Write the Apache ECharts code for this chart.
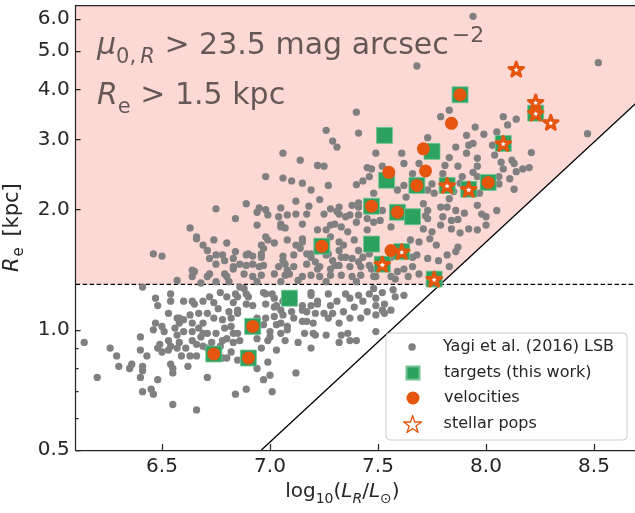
<!DOCTYPE html>
<html>
<head>
<meta charset="utf-8">
<script src="https://cdn.jsdelivr.net/npm/echarts@6/dist/echarts.min.js"></script>
<style>
  html, body { margin: 0; padding: 0; background: #ffffff; }
  #chart { width: 635px; height: 513px; }
</style>
</head>
<body>
<div id="chart"></div>
<script>
// Each point: [log10(L_R / L_sun), effective radius R_e in kpc]
const lsbGalaxies = [
  [6.75,2.01],[6.84,1.90],[6.63,1.80],[6.66,1.71],[6.66,1.69],[6.74,1.68],[6.80,1.65],[6.69,1.63],[6.71,1.58],[6.46,1.55],
  [6.50,1.53],[6.84,1.57],[6.78,1.54],[6.72,1.51],[6.79,1.49],[6.83,1.51],[6.75,1.46],[6.86,1.46],[6.64,1.41],[6.65,1.40],
  [6.83,1.42],[6.79,1.38],[6.71,1.36],[6.57,1.33],[6.68,1.31],[6.75,1.32],[6.81,1.32],
  [7.06,2.77],[7.14,2.66],[7.22,2.58],[6.98,2.42],[7.06,2.40],[7.10,2.36],[7.15,2.33],[7.19,2.24],[7.23,2.12],[6.89,2.07],
  [6.95,2.02],[6.98,2.00],[6.94,1.97],[6.99,1.94],[7.05,2.02],[7.08,1.94],[7.12,2.10],[7.12,1.95],[7.18,2.04],[7.17,1.95],
  [6.94,1.83],[7.05,1.81],[7.07,1.80],[7.15,1.84],[7.22,1.78],[6.98,1.71],[7.02,1.65],[7.08,1.68],[7.12,1.63],[7.15,1.69],
  [6.90,1.55],[6.96,1.55],[7.06,1.53],[7.17,1.55],[6.75,1.54],
  [7.25,2.57],[7.45,2.55],[7.46,2.42],[7.27,2.30],[7.40,2.31],[7.43,2.36],[7.04,1.92],[7.25,1.95],[7.28,2.01],[7.31,1.98],
  [7.32,1.95],[7.35,1.92],[7.37,1.94],[7.38,2.05],[7.41,2.03],[7.41,1.94],[7.40,1.86],[7.45,1.90],[7.48,1.86],[7.05,1.84],
  [7.28,1.83],[7.30,1.84],[7.33,1.81],[7.36,1.76],[7.26,1.78],[7.45,1.78],[6.99,1.68],[7.15,1.66],[7.28,1.71],[7.32,1.66],
  [7.34,1.63],[7.32,1.58],[7.39,1.68],[7.41,1.58],[6.96,1.63],[6.97,1.60],[6.89,1.54],[6.92,1.53],[6.96,1.52],[7.14,1.60],
  [7.11,1.54],[7.19,1.52],[7.26,1.54],[7.29,1.49],[7.35,1.52],[7.38,1.51],[7.43,1.52],[7.46,1.55],[6.83,1.44],[6.89,1.45],
  [6.95,1.44],[6.97,1.45],[7.04,1.44],[7.07,1.46],[7.11,1.44],[7.17,1.46],[7.21,1.48],[7.23,1.44],[7.28,1.42],[7.32,1.45],
  [7.37,1.44],[7.42,1.44],[7.46,1.45],[6.88,1.38],[6.92,1.36],[6.96,1.37],[7.02,1.38],[7.07,1.37],[7.09,1.38],[7.15,1.36],
  [7.19,1.37],[7.23,1.36],[7.28,1.37],[7.33,1.37],[7.38,1.36],[7.42,1.37],[7.48,1.36],[6.94,1.32],[7.05,1.32],[7.13,1.33],
  [7.26,1.32],[7.40,1.32],
  [6.92,1.46],[7.06,1.49],[7.08,1.41],[7.19,1.55],[7.22,1.42],[6.72,1.38],[6.80,1.36],[6.64,1.36],
  [7.79,3.42],[7.83,3.55],[8.08,3.42],[8.14,3.37],[7.95,3.22],[8.10,3.26],[7.91,3.07],[7.99,3.09],[7.73,3.03],[7.92,2.90],
  [7.94,2.93],[7.86,2.87],[8.03,2.90],[7.49,2.77],[7.61,2.77],[7.83,2.70],[7.96,2.69],[7.91,2.77],[8.12,2.66],[8.13,2.61],
  [8.14,2.49],[8.07,2.63],[8.08,2.53],[8.11,2.39],[7.87,2.57],[7.81,2.58],[7.69,2.61],[7.52,2.57],[7.62,2.61],[7.47,2.53],
  [7.66,2.46],[7.89,2.42],[7.94,2.48],[7.96,2.42],[8.06,2.42],[7.88,2.33],[8.06,2.32],[8.13,2.25],[7.75,2.32],[7.62,2.30],
  [7.59,2.24],[7.73,2.24],[7.76,2.20],[7.85,2.22],[7.97,2.20],[7.83,2.13],[7.79,2.03],[7.82,2.03],[7.86,1.99],[7.90,1.96],
  [7.96,2.05],[8.05,1.99],[8.00,1.92],[7.80,1.92],[7.84,1.88],[7.87,1.89],[7.71,2.07],[7.73,1.99],[7.72,1.93],[7.73,1.90],
  [7.79,1.83],[7.84,1.79],[7.75,1.76],[7.88,1.75],[7.92,1.79],[7.96,1.78],[8.00,1.83],[7.71,1.79],[7.56,1.81],[7.52,1.99],
  [7.51,1.88],[7.63,2.15],[7.48,2.20],
  [7.94,6.10],[8.52,4.67],[7.68,4.58],[7.40,3.51],[7.26,3.16],[7.41,3.11],[7.29,2.97],[7.31,2.87],[8.05,3.13],[8.47,3.10],
  [8.21,2.78],[8.20,2.55],[8.17,2.53],[8.04,2.74],[7.96,2.57],[7.80,2.46],[7.32,2.03],[7.41,2.08],[7.98,1.95],[7.87,1.61],
  [6.41,1.28],[6.47,1.20],[6.48,1.15],[6.54,1.23],[6.54,1.18],[6.60,1.18],[6.64,1.18],[6.65,1.16],[6.69,1.18],[6.72,1.21],
  [6.74,1.17],[6.77,1.24],[6.80,1.21],[6.84,1.23],[6.83,1.17],[6.76,1.13],[6.71,1.10],[6.81,1.11],[6.85,1.10],[6.53,1.10],
  [6.57,1.07],[6.60,1.06],[6.63,1.09],[6.67,1.10],[6.74,1.07],[6.78,1.06],[6.64,1.04],[6.69,1.04],[6.47,1.04],[6.50,1.02],
  [6.46,1.00],[6.51,0.99],[6.56,1.01],[6.58,1.04],[6.60,0.99],[6.57,0.97],[6.64,0.99],[6.68,0.96],[6.71,0.98],[6.75,0.98],
  [6.79,1.01],[6.83,0.98],[6.85,0.98],[6.64,0.94],[6.66,0.92],[6.69,0.91],[6.73,0.93],[6.78,0.94],[6.83,0.93],[6.53,0.94],
  [6.58,0.93],[6.54,0.91],[6.57,0.90],[6.53,0.89],[6.48,0.90],[6.50,0.88],[6.40,0.96],[6.14,0.93],[6.26,0.90],[6.29,0.86],
  [6.40,0.89],[6.43,0.86],[6.36,0.82],[6.35,0.80],[6.30,0.81],[6.41,0.81],[6.41,0.79],[6.40,0.76],[6.54,0.82],[6.55,0.80],
  [6.48,0.75],[6.20,0.76],[6.71,0.76],[6.41,0.70],[6.45,0.71],[6.46,0.69],[6.55,0.65],[6.66,0.63],[6.84,0.69],[6.66,0.86],
  [6.63,0.86],[6.82,0.88],[6.80,0.85],[6.85,0.84],
  [6.55,0.78],[6.58,1.07],[6.67,1.01],[6.69,0.98],[6.80,0.95],[6.82,1.07],[6.89,0.71],[6.94,0.80],[6.97,0.75],[7.01,0.70],
  [7.03,0.89],[7.07,0.94],[7.12,0.78],[7.19,0.90],[7.20,0.98],[6.85,1.21],[6.86,1.28],[6.89,1.23],[6.92,1.15],[6.98,1.23],
  [7.02,1.20],[7.05,1.12],[6.94,1.07],[6.98,1.07],[7.03,1.03],[7.08,1.00],[7.00,0.96],[7.11,1.07],[7.15,1.12],[7.17,1.05],
  [7.22,1.16],[7.19,1.24],[7.02,1.14],[6.82,1.02],[6.78,0.85],[6.77,0.91],[6.71,0.90],[6.61,0.90],[6.59,0.86],[6.62,0.81],
  [6.49,0.92],
  [6.88,1.27],[6.90,1.21],[6.89,1.16],[6.85,1.12],[6.97,1.24],[7.01,1.23],[6.98,1.16],[7.03,1.15],[7.06,1.18],[7.10,1.11],
  [7.15,1.15],[7.19,1.22],[7.19,1.15],[7.22,1.18],[7.27,1.23],[7.28,1.15],[7.31,1.18],[7.35,1.23],[7.37,1.20],[7.41,1.22],
  [7.43,1.18],[7.46,1.23],[7.49,1.15],[7.49,1.09],[7.45,1.11],[7.42,1.07],[7.39,1.14],[7.34,1.11],[7.29,1.10],[7.25,1.10],
  [7.21,1.10],[7.17,1.11],[7.15,1.05],[7.20,1.04],[7.06,1.09],[7.02,1.08],[6.97,1.03],[7.05,1.04],[7.08,1.02],[7.00,0.99],
  [7.05,0.98],[7.16,0.98],[7.21,0.97],[7.26,0.97],[7.33,0.97],[7.37,0.94],[7.40,0.94],[7.49,0.99],[7.32,0.93],[7.13,0.93],
  [6.99,0.94],[6.94,0.95],[6.86,0.94],[6.96,0.90],[6.99,0.83],[7.00,0.77],
  [7.65,1.68],[7.69,1.66],[7.74,1.69],[7.77,1.63],[7.82,1.54],[7.78,1.49],[7.83,1.44],[7.86,1.57],[7.68,1.54],[7.73,1.51],
  [7.62,1.42],[7.66,1.44],[7.69,1.38],[7.64,1.36],[7.59,1.40],[7.56,1.36],[7.49,1.36],[7.48,1.27],[7.52,1.24],[7.57,1.26],
  [7.58,1.21],[7.49,1.20],[7.53,1.16],[7.52,1.12],[7.62,1.22],[7.53,1.10],
  [7.32,1.04],[7.56,1.12],[7.36,0.98],[7.27,1.07],[7.37,1.07],[7.27,1.55],[7.33,1.52],[7.41,1.48],[7.30,1.45],[7.47,1.42],
  [7.56,1.52],[7.66,1.52],[7.58,1.34]
];

const targets = [
  [7.88,3.88],[7.53,3.07],[7.75,2.80],[8.08,2.93],[7.54,2.37],[7.68,2.30],[7.82,2.30],[7.92,2.25],[8.01,2.34],[7.47,2.04],
  [7.59,1.97],[7.66,1.92],[8.23,3.49],[7.47,1.64],[7.61,1.57],[7.52,1.46],[7.76,1.34],[7.24,1.62],[7.09,1.20],[6.92,1.02],
  [6.74,0.87],[6.90,0.85]
];

const velocities = [
  [7.88,3.88],[7.84,3.29],[7.71,2.84],[7.55,2.48],[7.72,2.50],[7.68,2.30],[8.01,2.34],[7.47,2.04],[7.59,1.97],[7.56,1.58],
  [7.24,1.62],[6.92,1.02],[6.74,0.87],[6.90,0.85]
];

const stellarPops = [
  [8.14,4.50],[8.23,3.72],[8.23,3.49],[8.30,3.31],[8.08,2.93],[7.82,2.30],[7.92,2.25],[7.61,1.57],[7.52,1.46],[7.76,1.34]
];

// axis ranges and ticks
const logLRange = [6.1, 8.7];
const reRange = [0.5, 6.5];
const logLTicks = [6.5, 7.0, 7.5, 8.0, 8.5];
const reTicks = [0.5, 1, 2, 3, 4, 5, 6];
const reMinorTicks = [0.6, 0.7, 0.8, 0.9];

// selection cuts: R_e threshold and surface-brightness limit line
const reCut = 1.3;
const sbLimit = [[6.96, 0.5], [8.7, 3.72]];
const selectionRegion = [[6.1, 1.3], [7.788, 1.3], [8.7, 3.72], [8.7, 6.5], [6.1, 6.5]];

const lg = v => Math.log10(v);
const toPlot = pts => pts.map(p => [p[0], lg(p[1])]);

const FONT = 'DejaVu Sans';
const INK = '#262626';
const GREEN = '#2ca25f';
const ORANGE = '#e6550d';
const STAR = 'path://M0,-10L2.245,-3.09L9.51,-3.09L3.633,1.18L5.878,8.09L0,3.82L-5.878,8.09L-3.633,1.18L-9.51,-3.09L-2.245,-3.09Z';
const SQUARE = 'path://M0,0L10,0L10,10L0,10Z';

const yMin = lg(reRange[0]) - 1e-9;
const yMax = lg(reRange[1]);

const chart = echarts.init(document.getElementById('chart'), null, { renderer: 'canvas' });

const axisLineStyle = { color: INK, width: 1.25 };
const textColor = 'rgba(0,0,0,0.6)';
const legendText = { fontSize: 16, lineHeight: 20, color: INK, fontFamily: FONT };

const option = {
  animation: false,
  textStyle: { fontFamily: FONT },
  grid: { left: 75.6, right: -2.2, top: 5.3, bottom: 63, containLabel: false, outerBoundsMode: 'none' },
  xAxis: [
    {
      type: 'value', min: logLRange[0], max: logLRange[1], position: 'bottom', z: 10,
      axisLine: { show: true, onZero: false, lineStyle: axisLineStyle },
      axisTick: { show: true, inside: true, length: 6, customValues: logLTicks, lineStyle: axisLineStyle },
      axisLabel: { customValues: logLTicks, formatter: v => v.toFixed(1), fontSize: 20, color: INK, margin: 7, fontFamily: FONT },
      splitLine: { show: false },
      name: '{n|log}{s|10}{n|(}{i|L}{si|R}{n|/}{i|L}{s|\u2299}{n|)}',
      nameLocation: 'middle', nameGap: 28,
      nameTextStyle: {
        color: INK, fontSize: 20, fontFamily: FONT, padding: [0, 28, 0, 0],
        rich: {
          n: { fontSize: 20, lineHeight: 28, verticalAlign: 'middle', color: INK, fontFamily: FONT },
          i: { fontSize: 20, lineHeight: 28, verticalAlign: 'middle', fontStyle: 'italic', color: INK, fontFamily: FONT },
          s: { fontSize: 14, lineHeight: 16, verticalAlign: 'bottom', color: INK, fontFamily: FONT },
          si: { fontSize: 14, lineHeight: 16, verticalAlign: 'bottom', fontStyle: 'italic', color: INK, fontFamily: FONT }
        }
      }
    },
    {
      type: 'value', min: logLRange[0], max: logLRange[1], position: 'top', z: 10,
      axisLine: { show: true, onZero: false, lineStyle: axisLineStyle },
      axisTick: { show: false }, axisLabel: { show: false }, splitLine: { show: false }
    }
  ],
  yAxis: [
    {
      type: 'value', min: yMin, max: yMax, position: 'left', z: 10,
      axisLine: { show: true, onZero: false, lineStyle: axisLineStyle },
      axisTick: { show: true, inside: true, length: 5, customValues: reTicks.map(lg), lineStyle: axisLineStyle },
      axisLabel: { customValues: reTicks.map(lg), formatter: v => Math.pow(10, v).toFixed(1), fontSize: 20, color: INK, margin: 6, fontFamily: FONT },
      splitLine: { show: false },
      name: '{i|R}{s|e}{n| [kpc]}',
      nameLocation: 'middle', nameGap: 45, nameRotate: 90,
      nameTextStyle: {
        color: INK, fontSize: 21, fontFamily: FONT,
        rich: {
          n: { fontSize: 21, lineHeight: 28, verticalAlign: 'middle', color: INK, fontFamily: FONT },
          i: { fontSize: 21, lineHeight: 28, verticalAlign: 'middle', fontStyle: 'italic', color: INK, fontFamily: FONT },
          s: { fontSize: 15, lineHeight: 16, verticalAlign: 'bottom', color: INK, fontFamily: FONT, padding: [0, 4, 0, 1] }
        }
      }
    },
    {
      type: 'value', min: yMin, max: yMax, position: 'left', z: 10,
      axisLine: { show: false, onZero: false },
      axisTick: { show: true, inside: true, length: 3, customValues: reMinorTicks.map(lg), lineStyle: axisLineStyle },
      axisLabel: { show: false }, splitLine: { show: false }
    }
  ],
  // legend boxes are placed by their content bounds, so "left" is the icon's left edge
  legend: [
    {
      data: ['Yagi et al. (2016) LSB'], selectedMode: false, left: 408.3, top: 337, padding: 0,
      itemWidth: 52, itemHeight: 7.5, icon: 'circle', z: 21, textStyle: legendText
    },
    {
      data: [{ name: 'targets (this work)', icon: SQUARE }, { name: 'velocities', icon: 'circle' }],
      selectedMode: false, orient: 'vertical', left: 405.5, top: 363, padding: 0, itemGap: 5,
      itemWidth: 52, itemHeight: 13, z: 21, textStyle: legendText
    },
    {
      data: [{ name: 'stellar pops', icon: STAR, itemStyle: { color: '#ffffff', borderColor: ORANGE, borderWidth: 1.3 } }],
      selectedMode: false, left: 403, top: 414, padding: 0,
      itemWidth: 52, itemHeight: 17, z: 21, textStyle: legendText
    }
  ],
  graphic: {
    elements: [
      {
        type: 'rect', z: 20, silent: true,
        shape: { x: 386, y: 333, width: 241, height: 107, r: 4 },
        style: { fill: 'rgba(255,255,255,0.8)', stroke: '#cccccc', lineWidth: 1 }
      },
      {
        type: 'text', z: 9, silent: true, x: 97, y: 25.6,
        style: {
          text: '{mu|\u03bc}{sb|0,\u2009}{sbi|R}{n| > 23.5 mag arcsec}{sp|\u22122}',
          fill: textColor, font: '30px "DejaVu Sans"',
          rich: {
            mu: { fontSize: 30, lineHeight: 42, fontStyle: 'italic', verticalAlign: 'middle', fill: textColor, fontFamily: FONT },
            n: { fontSize: 30, lineHeight: 42, verticalAlign: 'middle', fill: textColor, fontFamily: FONT },
            sb: { fontSize: 21, lineHeight: 18, verticalAlign: 'bottom', fill: textColor, fontFamily: FONT },
            sbi: { fontSize: 21, lineHeight: 18, verticalAlign: 'bottom', fontStyle: 'italic', fill: textColor, fontFamily: FONT },
            sp: { fontSize: 22, lineHeight: 26, verticalAlign: 'top', fill: textColor, fontFamily: FONT, padding: [0, 0, 0, 3] }
          }
        }
      },
      {
        type: 'text', z: 9, silent: true, x: 97, y: 75.6,
        style: {
          text: '{ri|R}{sb|e}{n| > 1.5 kpc}',
          fill: textColor, font: '30px "DejaVu Sans"',
          rich: {
            ri: { fontSize: 30, lineHeight: 42, fontStyle: 'italic', verticalAlign: 'middle', fill: textColor, fontFamily: FONT },
            n: { fontSize: 30, lineHeight: 42, verticalAlign: 'middle', fill: textColor, fontFamily: FONT },
            sb: { fontSize: 21, lineHeight: 26, verticalAlign: 'bottom', fill: textColor, fontFamily: FONT }
          }
        }
      }
    ]
  },
  series: [
    {
      type: 'custom', name: 'selection', silent: true, z: 1,
      data: [[logLRange[0], lg(reCut)]],
      renderItem: (params, api) => ({
        type: 'polygon',
        shape: { points: selectionRegion.map(p => api.coord([p[0], lg(p[1])])) },
        style: { fill: '#fdd9d5' }
      })
    },
    {
      type: 'line', name: 'Re cut', silent: true, z: 2, symbol: 'none',
      data: toPlot([[logLRange[0], reCut], [logLRange[1], reCut]]),
      lineStyle: { color: '#000000', width: 1.2, type: [4.5, 2.5] }
    },
    {
      type: 'line', name: 'SB limit', silent: true, z: 2, symbol: 'none',
      data: toPlot(sbLimit),
      lineStyle: { color: '#000000', width: 1.3 }
    },
    {
      type: 'scatter', name: 'Yagi et al. (2016) LSB', z: 3, symbol: 'circle', symbolSize: 7.3,
      data: toPlot(lsbGalaxies),
      itemStyle: { color: '#808080', opacity: 1 }
    },
    {
      type: 'scatter', name: 'targets (this work)', z: 4, symbol: SQUARE, symbolSize: 16, symbolKeepAspect: true,
      data: toPlot(targets),
      itemStyle: { color: GREEN, borderColor: '#72c495', borderWidth: 0.8, opacity: 1 }
    },
    {
      type: 'scatter', name: 'velocities', z: 5, symbol: 'circle', symbolSize: 13,
      data: toPlot(velocities),
      itemStyle: { color: ORANGE, opacity: 1 }
    },
    {
      type: 'scatter', name: 'stellar pops', z: 6, symbol: STAR, symbolSize: 14.5, symbolKeepAspect: true,
      data: toPlot(stellarPops),
      itemStyle: { color: '#ffffff', borderColor: ORANGE, borderWidth: 3, borderJoin: 'round', opacity: 1 }
    }
  ]
};

chart.setOption(option);
</script>
</body>
</html>
